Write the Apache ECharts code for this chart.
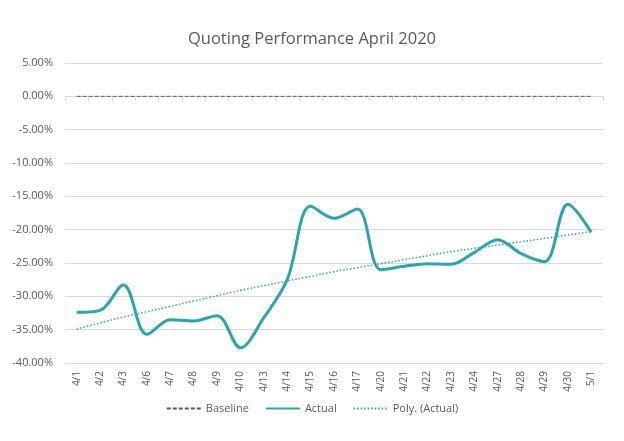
<!DOCTYPE html>
<html>
<head>
<meta charset="utf-8">
<script src="https://cdn.jsdelivr.net/npm/echarts@6/dist/echarts.min.js"></script>
<style>
  html, body { margin: 0; padding: 0; background: #fff; }
  #chart { width: 624px; height: 441px; }
</style>
</head>
<body>
<div id="chart"></div>
<script>
var days = ['4/1', '4/2', '4/3', '4/6', '4/7', '4/8', '4/9', '4/10', '4/13', '4/14', '4/15', '4/16',
    '4/17', '4/20', '4/21', '4/22', '4/23', '4/24', '4/27', '4/28', '4/29', '4/30', '5/1'];
var baseline = [0, 0, 0, 0, 0, 0, 0, 0, 0, 0, 0, 0, 0, 0, 0, 0, 0, 0, 0, 0, 0, 0, 0];
var actual = [-32.4, -32.1, -28.3, -35.7, -33.5, -33.7, -32.9, -37.7, -33.2, -27.5, -16.5, -18.3,
    -16.9, -26.0, -25.5, -25.1, -25.2, -23.4, -21.5, -23.6, -24.8, -16.2, -20.4];
var poly = [-34.9, -34.0, -33.1, -32.3, -31.5, -30.7, -29.9, -29.1, -28.4, -27.7, -27.0, -26.3,
    -25.7, -25.1, -24.5, -23.9, -23.3, -22.8, -22.3, -21.8, -21.3, -20.8, -20.3];
var yTicks = { min: -40, max: 5, interval: 5 };

var teal = '#29a7ae';
var grey = '#595959';
var font = 'Open Sans';

var myChart = echarts.init(document.getElementById('chart'));
var option = {
    backgroundColor: '#fff',
    animation: false,
    title: {
        text: 'Quoting Performance April 2020',
        left: 'center',
        top: 26,
        textStyle: { fontFamily: font, fontSize: 16.5, fontWeight: 'normal', color: grey }
    },
    legend: {
        bottom: 22,
        left: 'center',
        itemWidth: 34,
        itemHeight: 10,
        itemGap: 16,
        itemStyle: { opacity: 0 },
        textStyle: { fontFamily: font, fontSize: 11, color: grey },
        data: ['Baseline', 'Actual', 'Poly. (Actual)']
    },
    grid: { left: 65, right: 21, top: 63, bottom: 78 },
    xAxis: {
        type: 'category',
        data: days,
        axisLine: { lineStyle: { color: '#d9d9d9' } },
        axisTick: { show: true, lineStyle: { color: '#d9d9d9' } },
        axisLabel: { rotate: 90, fontFamily: font, fontSize: 10, color: grey, margin: 8 }
    },
    yAxis: {
        type: 'value',
        min: yTicks.min,
        max: yTicks.max,
        interval: yTicks.interval,
        axisLine: { show: false },
        axisTick: { show: false },
        splitLine: { lineStyle: { color: '#d9d9d9' } },
        axisLabel: {
            fontFamily: font, fontSize: 11, color: grey, margin: 12,
            formatter: function (v) { return v.toFixed(2) + '%'; }
        }
    },
    series: [
        {
            name: 'Baseline',
            type: 'line',
            data: baseline,
            symbol: 'none',
            itemStyle: { color: grey },
            lineStyle: { color: grey, width: 1, type: [4, 2] }
        },
        {
            name: 'Actual',
            type: 'line',
            data: actual,
            symbol: 'none',
            smooth: 0.35,
            itemStyle: { color: teal },
            lineStyle: { color: teal, width: 3 }
        },
        {
            name: 'Poly. (Actual)',
            type: 'line',
            data: poly,
            symbol: 'none',
            smooth: true,
            itemStyle: { color: teal },
            lineStyle: { color: teal, width: 1.5, type: [1.5, 2] }
        }
    ]
};
myChart.setOption(option);
</script>
</body>
</html>
